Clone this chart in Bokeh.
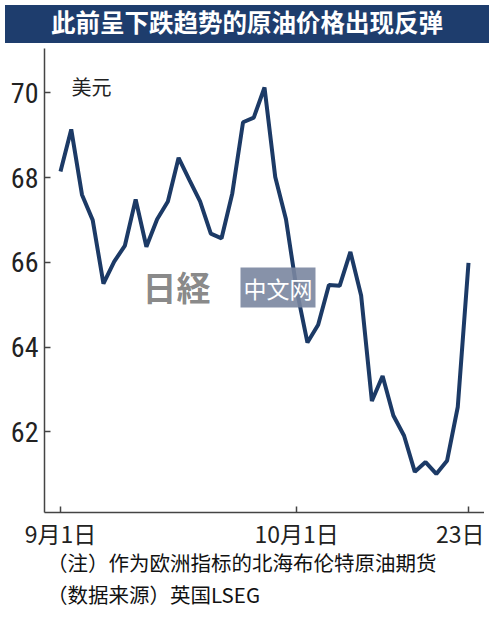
from bokeh.plotting import figure
from bokeh.models import Range1d, FixedTicker, Label, Div, ColumnDataSource
from bokeh.layouts import column
from bokeh.embed import file_html
from bokeh.resources import INLINE

title_text = "此前呈下跌趋势的原油价格出现反弹"
unit_label = "美元"
note_lines = ["（注）作为欧洲指标的北海布伦特原油期货", "（数据来源）英国LSEG"]

dates = ["09-01", "09-02", "09-03", "09-04", "09-05", "09-08", "09-09", "09-10",
         "09-11", "09-12", "09-15", "09-16", "09-17", "09-18", "09-19", "09-22",
         "09-23", "09-24", "09-25", "09-26", "09-29", "09-30", "10-01", "10-02",
         "10-03", "10-06", "10-07", "10-08", "10-09", "10-10", "10-13", "10-14",
         "10-15", "10-16", "10-17", "10-20", "10-21", "10-22", "10-23"]
prices = [68.15, 69.14, 67.60, 67.00, 65.50, 66.02, 66.40, 67.49,
          66.37, 67.02, 67.44, 68.47, 67.95, 67.44, 66.68, 66.57,
          67.63, 69.31, 69.42, 70.13, 68.02, 67.02, 65.35, 64.11,
          64.53, 65.47, 65.45, 66.25, 65.22, 62.73, 63.32, 62.39,
          61.91, 61.06, 61.29, 61.01, 61.32, 62.59, 65.99]

x_tick_dates = ["09-01", "10-01", "10-23"]
x_tick_labels = ["9月1日", "10月1日", "23日"]
y_ticks = [62, 64, 66, 68, 70]

NAVY = "#1e3d6d"
LINE = "#1c3a66"
CJK = "Noto Sans CJK SC"
NUM = "'Roboto Condensed', 'Noto Sans CJK SC', sans-serif"

idx = list(range(len(dates)))
src = ColumnDataSource(dict(i=idx, price=prices))

p = figure(width=484, height=505,
           x_range=Range1d(-1.49, 39.49), y_range=Range1d(60.10, 71.05),
           output_backend="svg", toolbar_location=None,
           min_border_left=44, min_border_right=0,
           min_border_top=0, min_border_bottom=41)
p.outline_line_color = None
p.background_fill_color = "white"
p.border_fill_color = "white"
p.xgrid.visible = False
p.ygrid.visible = False

p.line(x="i", y="price", source=src, line_color=LINE, line_width=4)

tick_pos = [dates.index(d) for d in x_tick_dates]
p.xaxis.ticker = FixedTicker(ticks=tick_pos)
p.xaxis.major_label_overrides = {t: l for t, l in zip(tick_pos, x_tick_labels)}
p.xaxis.minor_tick_line_color = None
p.xaxis.major_tick_in = 6
p.xaxis.major_tick_out = 0
p.xaxis.major_label_standoff = 3
p.xaxis.major_label_text_font = CJK
p.xaxis.major_label_text_font_size = "23px"
p.xaxis.major_label_text_color = "#222222"

p.yaxis.ticker = FixedTicker(ticks=y_ticks)
p.yaxis.minor_tick_line_color = None
p.yaxis.major_tick_in = 6
p.yaxis.major_tick_out = 0
p.yaxis.major_label_standoff = 6
p.yaxis.major_label_text_font = NUM
p.yaxis.major_label_text_font_size = "28px"
p.yaxis.major_label_text_color = "#222222"

for ax in (p.xaxis, p.yaxis):
    ax.axis_line_color = "#444444"
    ax.axis_line_width = 1.5
    ax.major_tick_line_color = "#444444"
    ax.major_tick_line_width = 1.5

p.add_layout(Label(x=27, y=441, x_units="screen", y_units="screen",
                   text=unit_label, text_font=CJK, text_font_size="20px",
                   text_color="#222222", text_baseline="top"))

# watermark
p.add_layout(Label(x=132, y=226, x_units="screen", y_units="screen",
                   text="日経", text_font="Noto Sans CJK JP", text_font_style="bold",
                   text_font_size="34px", text_color="#444444", text_alpha=0.65,
                   text_align="center", text_baseline="middle"))
p.add_layout(Label(x=196, y=225, x_units="screen", y_units="screen",
                   text="中文网", text_font=CJK, text_font_size="23px",
                   text_color="white", text_baseline="middle",
                   background_fill_color="#7a86a0", background_fill_alpha=0.9,
                   padding=3))

title_div = Div(text=title_text, width=484, height=38,
                styles={"background-color": NAVY, "color": "white",
                        "font-size": "24.5px", "font-weight": "bold",
                        "font-family": CJK, "text-align": "center",
                        "line-height": "34px"})

notes_html = ('<div style="position:relative; top:-12px">'
              + "<br>".join(note_lines) + "</div>")
notes_div = Div(text=notes_html, width=484, height=70,
                styles={"color": "#111111", "font-size": "20.5px",
                        "font-family": CJK, "line-height": "32px",
                        "padding-left": "42px"})

layout = column(title_div, p, notes_div, spacing=0)
open("out.html", "w").write(file_html(layout, INLINE))
